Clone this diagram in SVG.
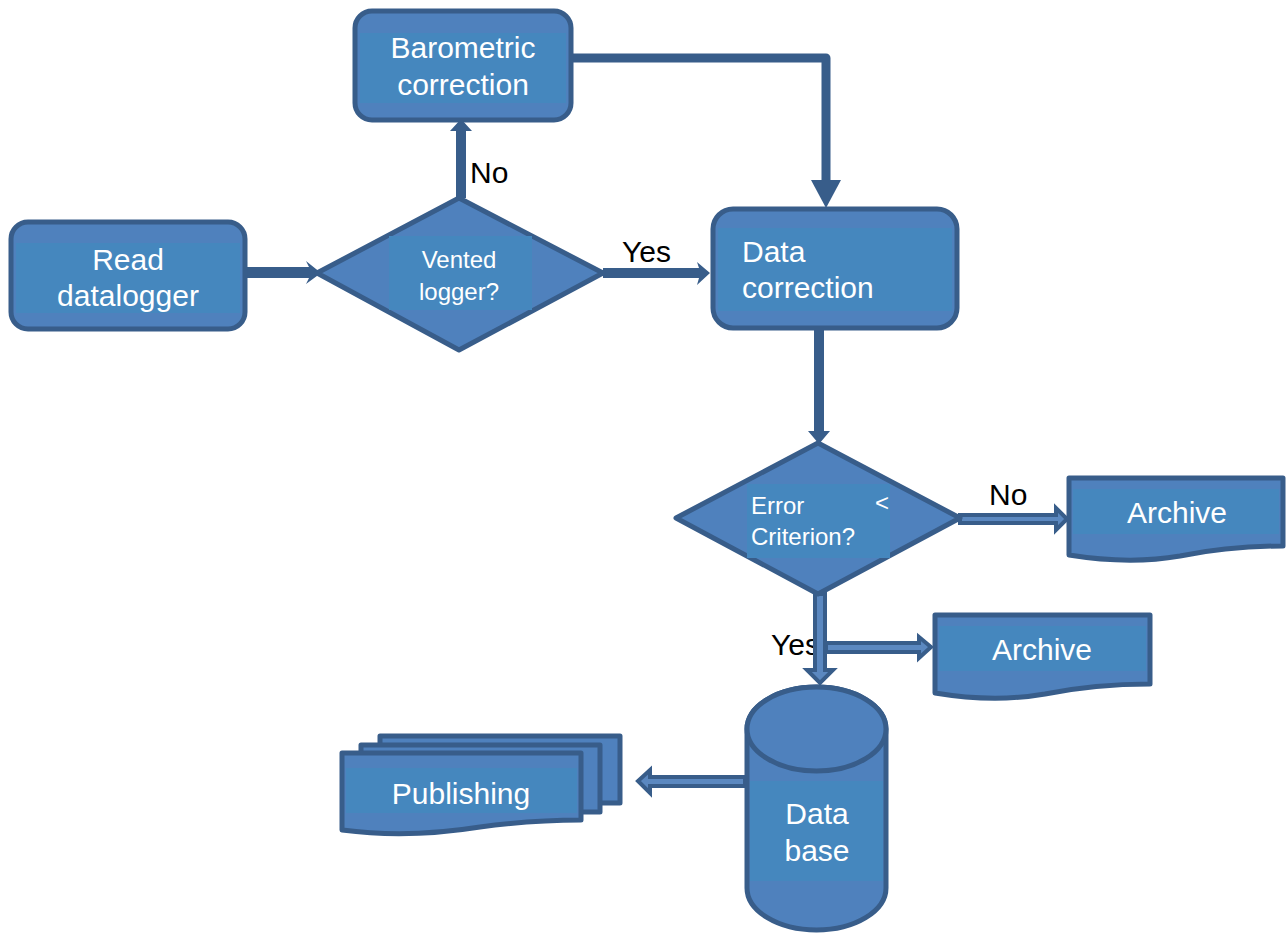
<svg xmlns="http://www.w3.org/2000/svg" width="1286" height="933" viewBox="0 0 1286 933">
<style>
.shape{fill:#4f81bd;stroke:#385d8a;stroke-width:5;stroke-linejoin:round}
.inner{fill:#4587be}
.t{font-family:"Liberation Sans",Arial,sans-serif;fill:#fff;font-size:30px}
.ts{font-family:"Liberation Sans",Arial,sans-serif;fill:#fff;font-size:24px}
.lbl{font-family:"Liberation Sans",Arial,sans-serif;fill:#000;font-size:30px}
.arr{fill:#385d8a;stroke:none}
.arro{fill:#5b88c0;stroke:#385d8a;stroke-width:4;stroke-linejoin:miter}
.line{fill:none;stroke:#385d8a;stroke-width:9;stroke-linejoin:round}
</style>
<rect width="1286" height="933" fill="#fff"/>

<g id="connectors">
  <!-- Read -> Vented -->
  <polygon class="arr" points="245,267 309,267 306,261 321,273 306,284 309,278 245,278"/>
  <!-- Vented -> Barometric (No) -->
  <polygon class="arr" points="456,198 456,131 450,131 461,119 472,131 466,131 466,198"/>
  <!-- Barometric -> Data correction -->
  <polyline class="line" points="571,58 826,58 826,183"/>
  <polygon class="arr" points="811,180 841,180 826,208"/>
  <!-- Vented -> Data correction (Yes) -->
  <polygon class="arr" points="603,268 699,268 697,262 710,273 697,285 699,278 603,278"/>
  <!-- Data correction -> Error -->
  <polygon class="arr" points="814,324 824,324 824,431 830,431 819,444 808,431 814,431"/>
  <!-- Error -> Archive (No) -->
  <polygon class="arro" points="960,515 1056,515 1056,508 1067,519 1056,530 1056,523 960,523"/>
  <!-- branch -> Archive 2 -->
  <polygon class="arro" points="826,643 919,643 919,637 931,647 919,658 919,652 826,652"/>
  <!-- Database -> Publishing -->
  <polygon class="arro" points="745,777 650,777 650,770 638,781 650,793 650,786 745,786"/>
</g>

<g id="labels">
  <text class="lbl" x="470" y="183">No</text>
  <text class="lbl" x="622" y="262">Yes</text>
  <text class="lbl" x="989" y="505">No</text>
  <text class="lbl" x="771" y="655">Yes</text>
</g>

<g id="connector-yes">
  <!-- Error -> Database (Yes), drawn over its label -->
  <polygon class="arro" points="815,594 825,594 825,670 833,670 820,683 807,670 815,670"/>
</g>

<g id="barometric">
  <rect class="shape" x="355" y="11" width="216" height="109" rx="17"/>
  <rect class="inner" x="360" y="33" width="206" height="70"/>
  <text class="t" x="463" y="58" text-anchor="middle">Barometric</text>
  <text class="t" x="463" y="95" text-anchor="middle">correction</text>
</g>

<g id="read">
  <rect class="shape" x="11" y="222" width="234" height="107" rx="17"/>
  <rect class="inner" x="16" y="243" width="224" height="70"/>
  <text class="t" x="128" y="270" text-anchor="middle">Read</text>
  <text class="t" x="128" y="306" text-anchor="middle">datalogger</text>
</g>

<g id="vented">
  <polygon class="shape" points="317,273 459,198 603,273 459,350"/>
  <rect class="inner" x="389" y="236" width="143" height="74"/>
  <text class="ts" x="459" y="268" text-anchor="middle">Vented</text>
  <text class="ts" x="459" y="300" text-anchor="middle">logger?</text>
</g>

<g id="datacorrection">
  <rect class="shape" x="713" y="209" width="244" height="119" rx="20"/>
  <rect class="inner" x="718" y="228" width="234" height="83"/>
  <text class="t" x="742" y="262">Data</text>
  <text class="t" x="742" y="298">correction</text>
</g>

<g id="error">
  <polygon class="shape" points="676,518 818,443 960,518 818,594"/>
  <rect class="inner" x="747" y="484" width="143" height="74"/>
  <text class="ts" x="751" y="514">Error</text>
  <text class="ts" x="875" y="511">&lt;</text>
  <text class="ts" x="751" y="545">Criterion?</text>
</g>

<g id="archive1">
  <path class="shape" d="M1069,478 H1283 V546 C1240,546 1210,550 1180,556 C1140,563 1100,560 1069,555 Z"/>
  <rect class="inner" x="1073" y="489" width="206" height="45"/>
  <text class="t" x="1177" y="523" text-anchor="middle">Archive</text>
</g>

<g id="archive2">
  <path class="shape" d="M935,615 H1150 V684 C1105,684 1075,688 1045,694 C1005,701 965,698 935,693 Z"/>
  <rect class="inner" x="939" y="626" width="207" height="45"/>
  <text class="t" x="1042" y="660" text-anchor="middle">Archive</text>
</g>

<g id="database">
  <path class="shape" d="M747,729 A69.5,42 0 0 1 886,729 V888 A69.5,42 0 0 1 747,888 Z"/>
  <rect class="inner" x="750" y="781" width="133" height="100"/>
  <ellipse class="shape" cx="816.5" cy="729" rx="69.5" ry="42"/>
  <text class="t" x="817" y="824" text-anchor="middle">Data</text>
  <text class="t" x="817" y="861" text-anchor="middle">base</text>
</g>

<g id="publishing">
  <rect class="shape" x="380" y="736" width="240" height="67"/>
  <rect class="shape" x="361" y="745" width="239" height="67"/>
  <path class="shape" d="M342,753 H581 V820 C540,820 510,823 480,827 C430,835 380,835 342,830 Z"/>
  <rect class="inner" x="346" y="768" width="231" height="45"/>
  <text class="t" x="461" y="804" text-anchor="middle">Publishing</text>
</g>
</svg>
